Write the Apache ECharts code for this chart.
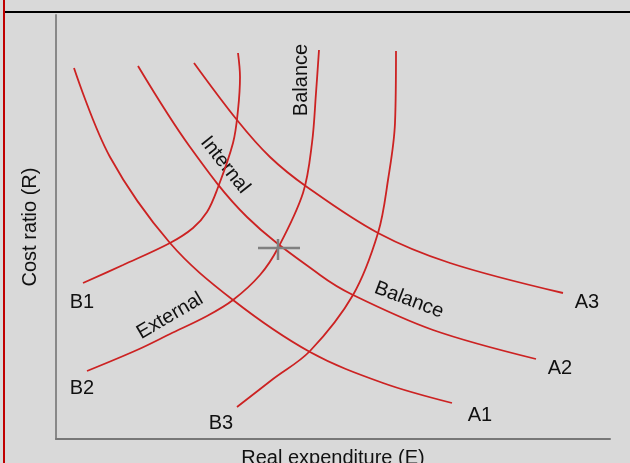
<!DOCTYPE html>
<html><head><meta charset="utf-8">
<script src="https://cdn.jsdelivr.net/npm/echarts@6/dist/echarts.min.js"></script>
<style>html,body{margin:0;padding:0;background:#d9d9d9}#c{width:630px;height:463px}</style>
</head><body><div id="c"></div>
<script>
// Curves as [real expenditure E, cost ratio R] pairs (arbitrary units)
const curveA1 = [[18,371],[54,282],[114,196],[177,139],[254,87],[327,56],[396,36]];
const curveA2 = [[82,373],[134,292],[191,222],[264,164],[297,144],[377,109],[480,80]];
const curveA3 = [[138,376],[181,319],[214,282],[251,252],[322,206],[394,176],[507,146]];
const curveB1 = [[27,156],[67,174],[114,196],[137,211],[151,227],[161,249],[177,296],[182,329],[184,362],[182,386]];
const curveB2 = [[31,68],[81,89],[114,105],[151,123],[177,139],[204,164],[222,191],[247,246],[256,296],[260,346],[263,389]];
const curveB3 = [[181,32],[217,60],[254,88],[297,144],[322,206],[332,259],[339,316],[340,388]];
const crossH = [[202,191],[244,191]];
const crossV = [[222,179],[222,200]];
const axisNames = ['Real expenditure (E)', 'Cost ratio (R)'];

const red = '#cc2222';
const font = '"Liberation Sans", Arial, sans-serif';
function curve(d){return {type:'line',data:d,smooth:0.35,showSymbol:false,symbol:'none',lineStyle:{color:red,width:1.8},silent:true};}
function cross(d){return {type:'line',data:d,showSymbol:false,symbol:'none',lineStyle:{color:'#808080',width:2.5},silent:true};}
function txt(t,x,y,rot){return {type:'text',x:x,y:y,rotation:rot||0,style:{text:t,font:'20px '+font,fill:'#111',align:'center',verticalAlign:'middle'}};}

const chart = echarts.init(document.getElementById('c'));
chart.setOption({
  backgroundColor:'#d9d9d9',
  animation:false,
  grid:{left:56,right:20,top:15,bottom:24,containLabel:false,outerBoundsMode:'none'},
  xAxis:{type:'value',min:0,max:554,name:axisNames[0],nameLocation:'middle',nameGap:9,
    nameTextStyle:{fontSize:20,fontFamily:font,color:'#111'},
    axisLine:{show:true,onZero:false,lineStyle:{color:'#777',width:2}},axisTick:{show:false},axisLabel:{show:false},splitLine:{show:false}},
  yAxis:{type:'value',min:0,max:424,name:axisNames[1],nameLocation:'middle',nameGap:16,nameRotate:90,
    nameTextStyle:{fontSize:20,fontFamily:font,color:'#111'},
    axisLine:{show:true,onZero:false,lineStyle:{color:'#888',width:2}},axisTick:{show:false},axisLabel:{show:false},splitLine:{show:false}},
  series:[curve(curveA1),curve(curveA2),curve(curveA3),curve(curveB1),curve(curveB2),curve(curveB3),cross(crossH),cross(crossV)],
  graphic:[
    {type:'line',shape:{x1:4,y1:0,x2:4,y2:463},style:{stroke:'#c00000',lineWidth:2}},
    {type:'line',shape:{x1:5,y1:12,x2:630,y2:12},style:{stroke:'#000',lineWidth:2}},
    txt('B1',82,302), txt('B2',82,388), txt('B3',221,423),
    txt('A1',480,415), txt('A2',560,368), txt('A3',587,302),
    txt('Balance',301,80,Math.PI/2),
    txt('Internal',225,165,-0.9),
    txt('External',170,316,0.53),
    txt('Balance',409,300,-0.36)
  ]
});
</script></body></html>
